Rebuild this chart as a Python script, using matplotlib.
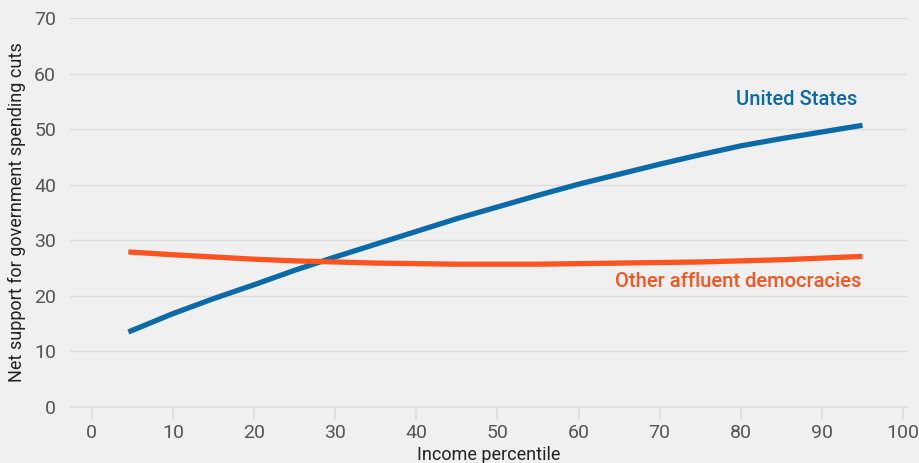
import matplotlib
matplotlib.use("Agg")
import matplotlib.pyplot as plt

# valores
percentil = [4.5, 10, 15, 20, 25, 30, 35, 40, 45, 50, 55, 60, 65, 70, 75, 80, 85, 90, 95]
estados_unidos = [13.5, 16.8, 19.5, 22.0, 24.6, 27.0, 29.3, 31.6, 33.9, 36.0, 38.1,
                  40.1, 41.9, 43.7, 45.4, 47.0, 48.3, 49.5, 50.7]
otras_democracias = [27.9, 27.4, 27.0, 26.6, 26.3, 26.1, 25.9, 25.8, 25.7, 25.7, 25.7,
                     25.8, 25.9, 26.0, 26.1, 26.3, 26.5, 26.8, 27.1]

ticks_x = [0, 10, 20, 30, 40, 50, 60, 70, 80, 90, 100]
ticks_y = [0, 10, 20, 30, 40, 50, 60, 70]

azul = "#0b6aa8"
naranja = "#fb5420"
fondo = "#f0f0f0"

plt.rcParams["font.family"] = ["Roboto", "DejaVu Sans"]

fig = plt.figure(figsize=(9.2, 4.63), dpi=100, facecolor=fondo)
ax = fig.add_axes([0.076, 0.121, 0.91, 0.84], facecolor=fondo)

ax.plot(percentil, estados_unidos, color=azul, linewidth=3.8, solid_capstyle="butt",
        solid_joinstyle="round")
ax.plot(percentil, otras_democracias, color=naranja, linewidth=3.8, solid_capstyle="butt",
        solid_joinstyle="round")

ax.text(94.3, 55.4, "United States", color=azul, fontsize=14.5, fontweight="medium",
        ha="right", va="center")
ax.text(94.8, 22.5, "Other affluent democracies", color=naranja, fontsize=14.5,
        fontweight="medium", ha="right", va="center")

ax.set_xlim(-2.7, 100.5)
ax.set_ylim(0, 70)
ax.set_xticks(ticks_x)
ax.set_yticks(ticks_y)
ax.grid(axis="y", color="#dcdcdc", linewidth=1)
ax.set_axisbelow(True)
for s in ["top", "right", "left"]:
    ax.spines[s].set_visible(False)
ax.spines["bottom"].set_color("#dcdcdc")
ax.spines["bottom"].set_linewidth(1.2)
ax.tick_params(axis="x", colors="#555555", labelsize=14, length=9, width=1.2,
               color="#dcdcdc", pad=3)
ax.tick_params(axis="y", colors="#555555", labelsize=14, length=0, pad=10)
ax.set_xlabel("Income percentile", fontsize=13, color="#222222", labelpad=3)
ax.set_ylabel("Net support for government spending cuts", fontsize=13,
              color="#222222", labelpad=6)

fig.savefig("out.png", dpi=100, facecolor=fondo)
